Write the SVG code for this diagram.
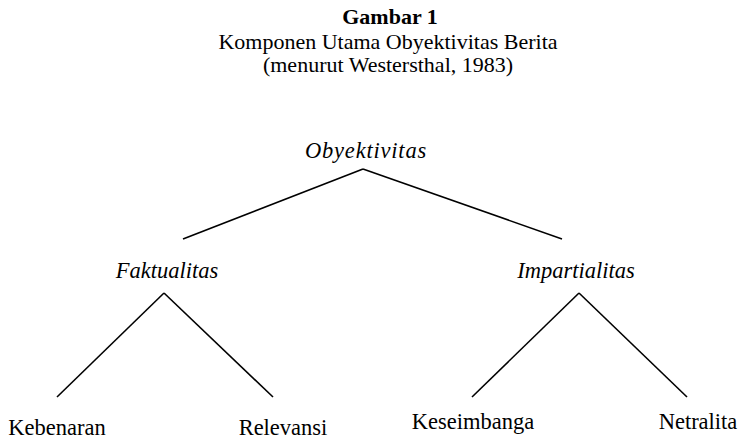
<svg xmlns="http://www.w3.org/2000/svg" width="743" height="439" viewBox="0 0 743 439">
<style>
text{font-family:"Liberation Serif","Times New Roman",serif;font-size:22.5px;fill:#000;text-anchor:middle}
.t{font-size:22px}
.b{font-weight:bold}
.i{font-style:italic}
line{stroke:#000;stroke-width:1.6}
</style>
<rect width="743" height="439" fill="#fff"/>
<g id="title">
<text class="t b" x="390" y="24">Gambar 1</text>
<text class="t" x="388" y="49">Komponen Utama Obyektivitas Berita</text>
<text class="t" x="388" y="72">(menurut Westersthal, 1983)</text>
</g>
<g id="connectors">
<line x1="183" y1="239" x2="363" y2="169"/>
<line x1="363" y1="169" x2="562" y2="239"/>
<line x1="57" y1="397" x2="164" y2="293"/>
<line x1="164" y1="293" x2="273" y2="397"/>
<line x1="472" y1="397" x2="579" y2="293"/>
<line x1="579" y1="293" x2="687" y2="397"/>
</g>
<g id="n-obyektivitas"><text class="i" x="366" y="158" letter-spacing="0.8">Obyektivitas</text></g>
<g id="n-faktualitas"><text class="i" x="167" y="278">Faktualitas</text></g>
<g id="n-impartialitas"><text class="i" x="576" y="278">Impartialitas</text></g>
<g id="n-kebenaran"><text x="57" y="435">Kebenaran</text></g>
<g id="n-relevansi"><text x="283" y="435">Relevansi</text></g>
<g id="n-keseimbanga"><text x="473" y="429">Keseimbanga</text></g>
<g id="n-netralita"><text x="698" y="429">Netralita</text></g>
</svg>
